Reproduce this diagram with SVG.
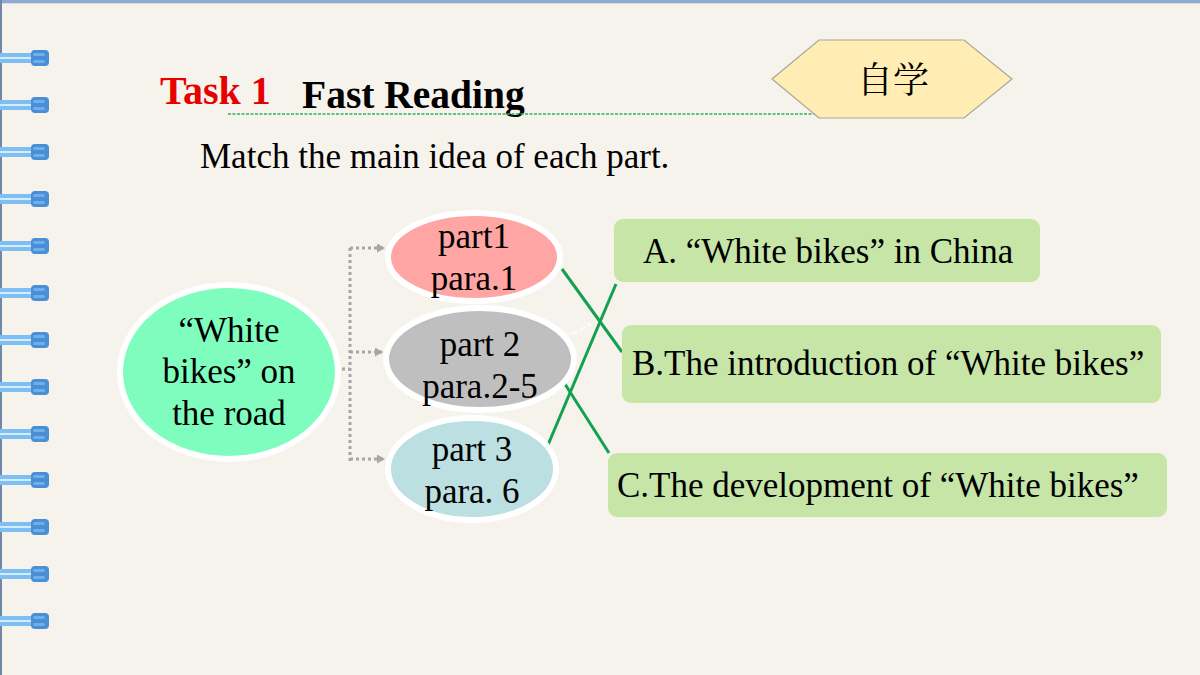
<svg xmlns="http://www.w3.org/2000/svg" xmlns:xlink="http://www.w3.org/1999/xlink" width="1200" height="675" viewBox="0 0 1200 675">
<style>
  .t { font-family: "Liberation Serif", "Times New Roman", serif; fill: #000; }
  .body { font-size: 35px; }
  .mid { text-anchor: middle; }
  .dot { fill: none; stroke: #A6A6A6; stroke-width: 3; stroke-dasharray: 3 3; }
  .match { stroke: #12A150; stroke-width: 3; fill: none; }
  .box { fill: #C6E5A6; }
  .ell { stroke: #FFFFFF; stroke-width: 6; }
</style>
<defs>
  <g id="ring">
    <rect x="0" y="-5" width="35" height="10" fill="#7DBEF3"/>
    <rect x="0" y="-1" width="35" height="2" fill="#D6ECFC"/>
    <rect x="31" y="-8" width="18" height="16" rx="4" fill="#4A8FD6"/>
    <rect x="33" y="-5" width="12" height="3" rx="1.5" fill="#6FAFEA"/>
    <rect x="33" y="2" width="12" height="3" rx="1.5" fill="#6FAFEA"/>
  </g>
  <marker id="arr" markerWidth="9" markerHeight="9" refX="7" refY="4.5" orient="auto" markerUnits="userSpaceOnUse">
    <path d="M0,0 L8,4.5 L0,9 Z" fill="#A6A6A6"/>
  </marker>
</defs>

<rect width="1200" height="675" fill="#F6F2EC"/>
<rect x="0" y="0" width="1200" height="3" fill="#8EAAD2"/>
<rect x="0" y="3" width="1200" height="1" fill="#D6D9DE"/>
<rect x="0" y="0" width="2" height="675" fill="#6F87A8"/>

<g id="spiral">
  <use xlink:href="#ring" href="#ring" y="58"/>
  <use xlink:href="#ring" href="#ring" y="105"/>
  <use xlink:href="#ring" href="#ring" y="152"/>
  <use xlink:href="#ring" href="#ring" y="199"/>
  <use xlink:href="#ring" href="#ring" y="246"/>
  <use xlink:href="#ring" href="#ring" y="293"/>
  <use xlink:href="#ring" href="#ring" y="340"/>
  <use xlink:href="#ring" href="#ring" y="387"/>
  <use xlink:href="#ring" href="#ring" y="434"/>
  <use xlink:href="#ring" href="#ring" y="480"/>
  <use xlink:href="#ring" href="#ring" y="527"/>
  <use xlink:href="#ring" href="#ring" y="574"/>
  <use xlink:href="#ring" href="#ring" y="621"/>
</g>

<g id="title">
  <text class="t" x="160" y="104" font-size="40" font-weight="bold" fill="#E60000" style="fill:#E60000">Task 1</text>
  <text class="t" x="302" y="108" font-size="39.5" font-weight="bold">Fast Reading</text>
  <line x1="228" y1="114" x2="816" y2="114" stroke="#2DB35A" stroke-width="1.3" stroke-dasharray="3 1.5"/>
  <text class="t" x="200" y="168" font-size="35">Match the main idea of each part.</text>
</g>

<g id="badge">
  <polygon points="772,79 819,40 964,40 1012,79 964,118 819,118" fill="#FFEDB3" stroke="#A3A898" stroke-width="1.2"/>
  <text x="893" y="93" font-family="'Noto Serif CJK SC', 'Noto Sans CJK SC', serif" font-size="36" text-anchor="middle" fill="#000">自学</text>
</g>

<g id="connectors">
  <path class="dot" d="M312,369 H350"/>
  <path class="dot" d="M350,248 V461"/>
  <path class="dot" d="M350,248 H384" marker-end="url(#arr)"/>
  <path class="dot" d="M350,352 H382" marker-end="url(#arr)"/>
  <path class="dot" d="M350,459 H384" marker-end="url(#arr)"/>
  <line x1="572" y1="334" x2="591" y2="324" stroke="#FFFFFF" stroke-width="2.5" stroke-dasharray="6 3" opacity="0.85"/>
  <line class="match" x1="562" y1="269" x2="622" y2="352"/>
  <line class="match" x1="545" y1="452" x2="616" y2="284"/>
  <line class="match" x1="563" y1="381" x2="609" y2="453"/>
</g>

<g id="node-root">
  <ellipse class="ell" cx="229" cy="372" rx="109" ry="87" fill="#7FFDBE"/>
  <text class="t body mid" x="229" y="342">“White</text>
  <text class="t body mid" x="229" y="383">bikes” on</text>
  <text class="t body mid" x="229" y="425">the road</text>
</g>

<g id="node-part1">
  <ellipse class="ell" cx="474" cy="257" rx="86" ry="44" fill="#FFA6A4"/>
  <text class="t body mid" x="474" y="248">part1</text>
  <text class="t body mid" x="474" y="290">para.1</text>
</g>

<g id="node-part2">
  <ellipse class="ell" cx="480" cy="359" rx="94" ry="51" fill="#BFBFBF"/>
  <text class="t body mid" x="480" y="356">part 2</text>
  <text class="t body mid" x="480" y="398">para.2-5</text>
</g>

<g id="node-part3">
  <ellipse class="ell" cx="472" cy="469" rx="84" ry="51" fill="#BCDFE1"/>
  <text class="t body mid" x="472" y="461">part 3</text>
  <text class="t body mid" x="472" y="503">para. 6</text>
</g>

<g id="node-A">
  <rect class="box" x="614" y="219" width="426" height="63" rx="9"/>
  <text class="t body" x="643" y="263">A. “White bikes” in China</text>
</g>

<g id="node-B">
  <rect class="box" x="622" y="325" width="539" height="78" rx="9"/>
  <text class="t body" x="632" y="375">B.The introduction of “White bikes”</text>
</g>

<g id="node-C">
  <rect class="box" x="608" y="453" width="559" height="64" rx="9"/>
  <text class="t body" x="617" y="497">C.The development of “White bikes”</text>
</g>
</svg>
